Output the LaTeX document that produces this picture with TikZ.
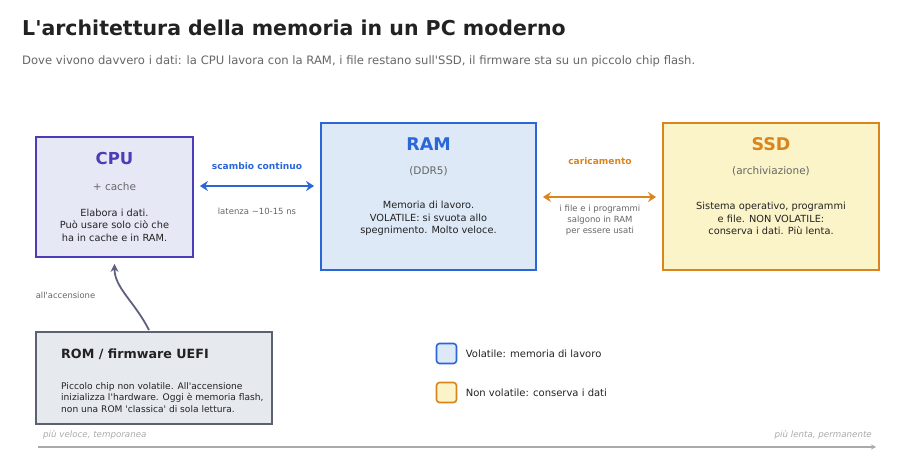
\documentclass[tikz,border=0pt]{standalone}
\usepackage{fontspec}
\setmainfont{DejaVu Sans}[Ligatures=TeXOff]
\usetikzlibrary{arrows.meta}

\definecolor{cpuedge}{HTML}{4B3DB8}
\definecolor{cpufill}{HTML}{E7E8F6}
\definecolor{ramedge}{HTML}{2B66D9}
\definecolor{ramfill}{HTML}{DDE9F7}
\definecolor{ssdedge}{HTML}{D9841C}
\definecolor{ssdfill}{HTML}{FBF4C9}
\definecolor{romedge}{HTML}{5B6170}
\definecolor{romfill}{HTML}{E6E9EE}
\definecolor{bodytext}{HTML}{222222}
\definecolor{softtext}{HTML}{666666}
\definecolor{faint}{HTML}{AAAAAA}
\definecolor{bootline}{HTML}{5F6080}

\begin{document}
\begin{tikzpicture}[x=1pt,y=-1pt,
    memblock/.style={draw,line width=1.8pt,inner sep=0pt},
    blocktitle/.style={font=\fontsize{16.5}{18}\selectfont\bfseries},
    blocksub/.style={font=\fontsize{10.5}{12}\selectfont,text=softtext},
    blockbody/.style={font=\fontsize{9.8}{12.5}\selectfont,text=bodytext,align=center},
    linklabel/.style={font=\fontsize{9.1}{10}\selectfont\bfseries},
    linknote/.style={font=\fontsize{8.5}{11.2}\selectfont,text=softtext,align=center},
    swatch/.style={draw,line width=1.6pt,rounded corners=3pt,minimum size=20pt,inner sep=0pt},
    legendtext/.style={font=\fontsize{10}{11}\selectfont,text=bodytext,anchor=west},
    axisnote/.style={font=\fontsize{8.7}{10}\selectfont\itshape,text=faint}]
    \useasboundingbox (0,0) rectangle (900,468);
    % titles
    \node [anchor=west,inner xsep=0pt,font=\fontsize{20.5}{23}\selectfont\bfseries,text=bodytext] (title) at (22,28) {L'architettura della memoria in un PC moderno};
    \node [anchor=west,inner xsep=0pt,font=\fontsize{11.6}{13}\selectfont,text=softtext] (subtitle) at (22,61) {Dove vivono davvero i dati: la CPU lavora con la RAM, i file restano sull'SSD, il firmware sta su un piccolo chip flash.};
    % memory blocks
    \node [memblock,draw=cpuedge,fill=cpufill,minimum width=157pt,minimum height=120pt] (cpu) at (114.5,197) {};
    \node [memblock,draw=ramedge,fill=ramfill,minimum width=215pt,minimum height=147pt] (ram) at (428.5,196.5) {};
    \node [memblock,draw=ssdedge,fill=ssdfill,minimum width=216pt,minimum height=147pt] (ssd) at (771,196.5) {};
    \node [memblock,draw=romedge,fill=romfill,minimum width=236pt,minimum height=92pt] (rom) at (154,378) {};
    % CPU
    \node [blocktitle,text=cpuedge] (cputitle) at (114.5,158) {CPU};
    \node [blocksub] (cpusub) at (114.5,187) {+ cache};
    \node [blockbody] (cpubody) at (114.5,225) {Elabora i dati.\\Può usare solo ciò che\\ha in cache e in RAM.};
    % RAM
    \node [blocktitle,text=ramedge,font=\fontsize{17.5}{19}\selectfont\bfseries] (ramtitle) at (428.5,144) {RAM};
    \node [blocksub] (ramsub) at (428.5,171) {(DDR5)};
    \node [blockbody] (rambody) at (428.5,218.5) {Memoria di lavoro.\\VOLATILE: si svuota allo\\spegnimento. Molto veloce.};
    % SSD
    \node [blocktitle,text=ssdedge,font=\fontsize{17.5}{19}\selectfont\bfseries] (ssdtitle) at (771,144) {SSD};
    \node [blocksub] (ssdsub) at (771,171) {(archiviazione)};
    \node [blockbody] (ssdbody) at (771,218.5) {Sistema operativo, programmi\\e file. NON VOLATILE:\\conserva i dati. Più lenta.};
    % ROM
    \node [anchor=west,inner xsep=0pt,font=\fontsize{12.7}{14}\selectfont\bfseries,text=bodytext] (romtitle) at (61,354) {ROM / firmware UEFI};
    \node [anchor=west,inner xsep=0pt,font=\fontsize{9.1}{11.6}\selectfont,text=bodytext,align=left] (rombody) at (61,397.5) {Piccolo chip non volatile. All'accensione\\inizializza l'hardware. Oggi è memoria flash,\\non una ROM 'classica' di sola lettura.};
    % links
    \draw [ramedge,line width=2.8pt,{Stealth[length=8pt,width=10pt]}-{Stealth[length=8pt,width=10pt]}] ([xshift=6pt,yshift=11pt]cpu.east) -- ([xshift=-6pt]ram.west |- 0,186);
    \node [linklabel,text=ramedge] (swaplabel) at (257,166) {scambio continuo};
    \node [linknote] (swapnote) at (257,211) {latenza \textasciitilde 10-15 ns};
    \draw [ssdedge,line width=2.8pt,{Stealth[length=8pt,width=10pt]}-{Stealth[length=8pt,width=10pt]}] ([xshift=6pt]ram.east |- 0,197) -- ([xshift=-6pt]ssd.west |- 0,197);
    \node [linklabel,text=ssdedge] (loadlabel) at (600,161) {caricamento};
    \node [linknote] (loadnote) at (600,220) {i file e i programmi\\salgono in RAM\\per essere usati};
    \draw [bootline,line width=1.8pt,-{Stealth[length=8pt,width=8pt]}] ([xshift=-5pt,yshift=1pt]rom.north) .. controls +(-14,-28) and +(0,24) .. ([yshift=-6pt]cpu.south);
    \node [font=\fontsize{8.4}{9}\selectfont,text=softtext] (bootlabel) at (65.5,295) {all'accensione};
    % legend
    \node [swatch,draw=ramedge,fill=ramfill] (volbox) at (446.5,353.5) {};
    \node [legendtext] (voltext) at ([xshift=5pt]volbox.east) {Volatile: memoria di lavoro};
    \node [swatch,draw=ssdedge,fill=ssdfill] (nvbox) at (446.5,392.5) {};
    \node [legendtext] (nvtext) at ([xshift=5pt]nvbox.east) {Non volatile: conserva i dati};
    % speed axis
    \coordinate (slow) at (876,447);
    \coordinate (fast) at (38,447);
    \draw [faint,line width=1.2pt,-{Stealth[length=5pt,width=5pt]}] (fast) -- (slow);
    \node [axisnote,anchor=west,inner xsep=0pt] (fastnote) at (43,435) {più veloce, temporanea};
    \node [axisnote,anchor=east,inner xsep=0pt] (slownote) at (872,435) {più lenta, permanente};
\end{tikzpicture}
\end{document}
